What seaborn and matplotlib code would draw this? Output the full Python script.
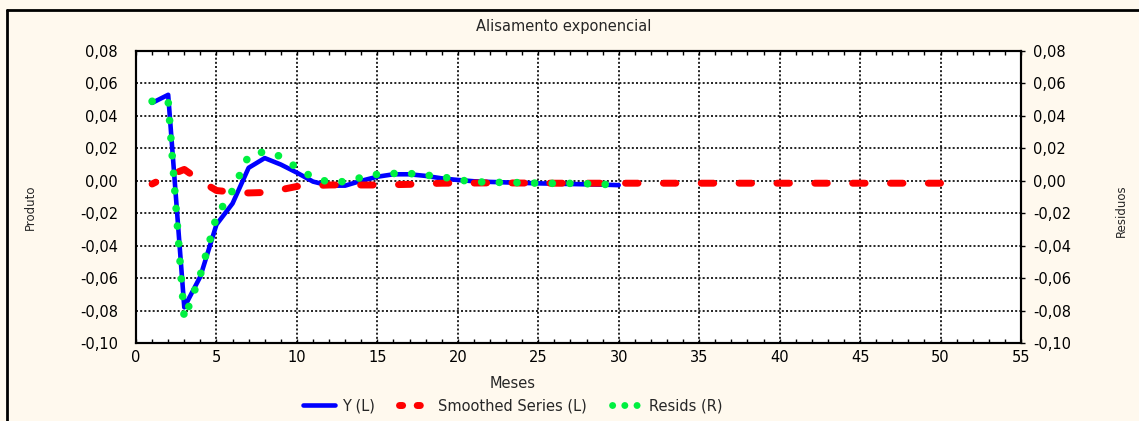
import numpy as np
import pandas as pd
import matplotlib
matplotlib.use("Agg")
import matplotlib.pyplot as plt
from matplotlib.lines import Line2D
from matplotlib.ticker import FuncFormatter, MultipleLocator
import seaborn as sns

# ── data ─────────────────────────────────────────────────────────────────
months_obs = list(range(1, 31))
months_all = list(range(1, 51))

y_vals = [0.048, 0.053, -0.078, -0.059, -0.027, -0.014, 0.008, 0.014, 0.010, 0.005,
          -0.0005, -0.003, -0.003, 0.000, 0.0025, 0.004, 0.004, 0.003, 0.0015, 0.0005,
          -0.0003, -0.0007, -0.001, -0.0013, -0.0016, -0.0018, -0.002, -0.0022, -0.0024, -0.0027]

smoothed_vals = [-0.002, 0.003, 0.007, 0.000, -0.006, -0.007, -0.0075, -0.0072, -0.0055, -0.0035,
                 -0.003, -0.0026, -0.0025, -0.0026, -0.0026, -0.0024, -0.0022, -0.0018, -0.0015, -0.0014,
                 -0.0014, -0.0013, -0.0013, -0.0014, -0.0014, -0.0015, -0.0015, -0.0015, -0.0015, -0.0015,
                 -0.0015, -0.0015, -0.0015, -0.0015, -0.0015, -0.0015, -0.0015, -0.0015, -0.0015, -0.0015,
                 -0.0015, -0.0015, -0.0015, -0.0015, -0.0015, -0.0015, -0.0015, -0.0015, -0.0015, -0.0015]

resid_vals = [0.049, 0.049, -0.085, -0.058, -0.022, -0.006, 0.0155, 0.018, 0.015, 0.008,
              0.002, -0.0008, -0.0005, 0.002, 0.004, 0.0045, 0.0045, 0.0035, 0.0025, 0.0005,
              -0.0005, -0.001, -0.001, -0.0012, -0.0015, -0.0016, -0.0016, -0.0018, -0.0022, -0.0025]

labels = ["Y (L)", "Smoothed Series (L)", "Resids (R)"]
y_ticks = [-0.10, -0.08, -0.06, -0.04, -0.02, 0.00, 0.02, 0.04, 0.06, 0.08]

BLUE, RED, GREEN = "#0000FF", "#FF0000", "#00F040"
BG = "#FFF9EE"
FS = 10.5

sns.set_theme(style="white")
plt.rcParams["font.family"] = ["DejaVu Sans"]
plt.rcParams["font.size"] = FS

fig = plt.figure(figsize=(11.39, 4.21), dpi=100, facecolor=BG)
ax = fig.add_axes([136 / 1139, 1 - 343 / 421, (1021 - 136) / 1139, (343 - 51) / 421])
ax.set_facecolor("white")
ax2 = ax.twinx()

df_y = pd.DataFrame({"m": months_obs, "v": y_vals})
df_s = pd.DataFrame({"m": months_all, "v": smoothed_vals})
df_r = pd.DataFrame({"m": months_obs, "v": resid_vals})

sns.lineplot(data=df_s, x="m", y="v", ax=ax, color=RED, lw=5,
             linestyle=(1.2, (1.8, 3.65)), dash_capstyle="round", zorder=3)
sns.lineplot(data=df_y, x="m", y="v", ax=ax, color=BLUE, lw=3.3, zorder=2)
sns.lineplot(data=df_r, x="m", y="v", ax=ax2, color=GREEN, lw=5.5,
             linestyle=(0, (0.01, 2.3)), dash_capstyle="round", zorder=3)

for a in (ax, ax2):
    a.set_xlim(0, 55)
    a.set_ylim(-0.10, 0.08)
    a.set_yticks(y_ticks)
    a.yaxis.set_major_formatter(FuncFormatter(
        lambda v, _: f"{abs(v):.2f}".replace(".", ",") if abs(v) < 1e-9
        else f"{v:.2f}".replace(".", ",")))
    a.set_xlabel("")
    a.set_ylabel("")
    for sp in a.spines.values():
        sp.set_color("black")
        sp.set_linewidth(1.5)

ax.xaxis.set_major_locator(MultipleLocator(5))
ax.xaxis.set_minor_locator(MultipleLocator(1))
ax.grid(True, which="major", color="black", linestyle=(0, (1.2, 1.3)), linewidth=1.2)
ax.tick_params(axis="x", which="both", direction="in", top=True, bottom=True,
               length=3, width=1, colors="black", labelsize=FS, pad=5)
ax.tick_params(axis="y", length=0, pad=13, labelsize=FS, colors="black")
ax2.tick_params(axis="y", direction="out", length=3, width=1, pad=6,
                labelsize=FS, colors="black", right=True)

fig.text(564 / 1139, 1 - 27 / 421, "Alisamento exponencial", ha="center", va="center", fontsize=FS)
fig.text(513 / 1139, 1 - 383 / 421, "Meses", ha="center", va="center", fontsize=FS)
fig.text(30 / 1139, 1 - 207 / 421, "Produto", ha="center", va="center", rotation=90, fontsize=8.5)
fig.text(1121 / 1139, 1 - 211 / 421, "Residuos", ha="center", va="center", rotation=90, fontsize=8.5)

handles = [
    Line2D([], [], color=BLUE, lw=3.3),
    Line2D([], [], color=RED, lw=5, linestyle=(0, (0.45, 2.1)), dash_capstyle="round"),
    Line2D([], [], color=GREEN, lw=5, linestyle=(-0.3, (0.01, 1.75)), dash_capstyle="round"),
]
fig.legend(handles, labels, loc="center", bbox_to_anchor=(513 / 1139, 1 - 406 / 421),
           ncol=3, frameon=False, fontsize=FS, handlelength=2.2,
           handletextpad=0.5, columnspacing=1.6)

# partial outer frame (left and top edges only)
fig.add_artist(Line2D([7 / 1139, 7 / 1139], [0, 1 - 10 / 421], color="black", lw=2,
                      transform=fig.transFigure))
fig.add_artist(Line2D([7 / 1139, 1], [1 - 10 / 421, 1 - 10 / 421], color="black", lw=2,
                      transform=fig.transFigure))

fig.savefig("out.png", dpi=100, facecolor=BG)
